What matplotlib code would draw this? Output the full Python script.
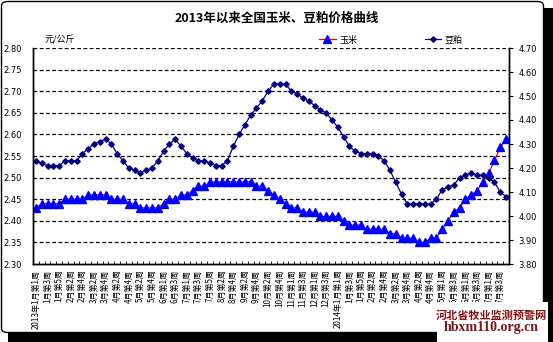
import matplotlib
matplotlib.use("Agg")
import matplotlib.pyplot as plt
from matplotlib.patches import Rectangle, FancyBboxPatch
from matplotlib.lines import Line2D
from matplotlib.ticker import FixedLocator
import numpy as np

plt.rcParams['font.family'] = ['Noto Sans CJK SC', 'DejaVu Sans']

# Weekly prices (yuan/kg), 2013 week 1 through 2014 July week 4
corn = [2.43, 2.44, 2.44, 2.44, 2.44, 2.45, 2.45, 2.45, 2.45, 2.46,
        2.46, 2.46, 2.46, 2.45, 2.45, 2.45, 2.44, 2.44, 2.43, 2.43,
        2.43, 2.43, 2.44, 2.45, 2.45, 2.46, 2.46, 2.47, 2.48, 2.48,
        2.49, 2.49, 2.49, 2.49, 2.49, 2.49, 2.49, 2.49, 2.48, 2.48,
        2.47, 2.46, 2.45, 2.44, 2.43, 2.43, 2.42, 2.42, 2.42, 2.41,
        2.41, 2.41, 2.41, 2.40, 2.39, 2.39, 2.39, 2.38, 2.38, 2.38,
        2.38, 2.37, 2.37, 2.36, 2.36, 2.36, 2.35, 2.35, 2.36, 2.36,
        2.38, 2.40, 2.42, 2.43, 2.45, 2.46, 2.47, 2.49, 2.51, 2.54,
        2.57, 2.59]

soymeal = [4.23, 4.22, 4.21, 4.21, 4.21, 4.23, 4.23, 4.23, 4.26, 4.28,
           4.30, 4.31, 4.32, 4.30, 4.26, 4.23, 4.20, 4.19, 4.18, 4.19,
           4.20, 4.23, 4.27, 4.30, 4.32, 4.29, 4.26, 4.24, 4.23, 4.23,
           4.22, 4.21, 4.21, 4.23, 4.29, 4.34, 4.38, 4.42, 4.45, 4.48,
           4.52, 4.55, 4.55, 4.55, 4.52, 4.51, 4.49, 4.48, 4.46, 4.44,
           4.43, 4.40, 4.37, 4.33, 4.29, 4.27, 4.26, 4.26, 4.26, 4.25,
           4.23, 4.19, 4.14, 4.09, 4.05, 4.05, 4.05, 4.05, 4.05, 4.07,
           4.11, 4.12, 4.13, 4.16, 4.17, 4.18, 4.17, 4.17, 4.16, 4.14,
           4.10, 4.08]

# Labels shown on every second week
week_labels = ["2013年1月第1周", "1月第3周", "1月第5周", "2月第2周", "2月第4周",
               "3月第2周", "3月第4周", "4月第2周", "4月第4周", "5月第2周",
               "5月第4周", "6月第1周", "6月第3周", "7月第1周", "7月第3周",
               "7月第5周", "8月第2周", "8月第4周", "9月第2周", "9月第4周",
               "10月第2周", "10月第4周", "11月第1周", "11月第3周", "12月第1周",
               "12月第3周", "2014年1月第1周", "1月第3周", "1月第5周", "2月第2周",
               "2月第4周", "3月第2周", "3月第4周", "4月第2周", "4月第4周",
               "5月第1周", "5月第3周", "6月第1周", "6月第3周", "7月第1周",
               "7月第3周"]

left_ticks = [2.30, 2.35, 2.40, 2.45, 2.50, 2.55, 2.60, 2.65, 2.70, 2.75, 2.80]
right_ticks = [3.80, 3.90, 4.00, 4.10, 4.20, 4.30, 4.40, 4.50, 4.60, 4.70]

W, H = 553, 342
fig = plt.figure(figsize=(W / 100, H / 100), dpi=100)
fig.patch.set_facecolor('white')

# Frame with drop shadow
fig.patches.append(Rectangle((8 / W, 0), 1 - 8 / W, 334 / H, transform=fig.transFigure,
                             facecolor='black', edgecolor='none', zorder=0))
fig.patches.append(FancyBboxPatch((1.5 / W, 9.5 / H), 542 / W, 331 / H,
                                  boxstyle="round,pad=0,rounding_size=0.012",
                                  transform=fig.transFigure, facecolor='white',
                                  edgecolor='black', linewidth=1, zorder=1))

ax = fig.add_axes([33 / W, 78 / H, 476 / W, 216 / H])
ax.set_zorder(3)
ax.patch.set_alpha(0)
ax2 = ax.twinx()

x = np.arange(len(corn))

ax.set_xlim(-0.5, len(corn) - 0.5)
ax.set_ylim(2.30, 2.80)
ax2.set_ylim(3.80, 4.70)

for v in left_ticks[1:]:
    ax.axhline(v, color='black', linestyle=(0, (3, 2)), linewidth=0.9, zorder=1)

ax.plot(x, corn, color='red', linewidth=0.9, marker='^', markersize=5.5,
        markerfacecolor='#0000FF', markeredgecolor='#0000FF', zorder=4)
ax2.plot(x, soymeal, color='#000080', linewidth=0.9, marker='D', markersize=2.8,
         markerfacecolor='#000080', markeredgecolor='#000080', zorder=4)

for a in (ax, ax2):
    a.spines['top'].set_visible(False)
    a.spines['left'].set_linewidth(1)
    a.spines['right'].set_linewidth(1)
    a.spines['bottom'].set_linewidth(1)

ax.set_yticks(left_ticks)
ax.set_yticklabels([f"{v:.2f}" for v in left_ticks], fontsize=6, family='DejaVu Sans')
ax.tick_params(axis='y', length=0, pad=21.5)
for lbl in ax.get_yticklabels():
    lbl.set_horizontalalignment('left')

ax2.set_yticks(right_ticks)
ax2.set_yticklabels([f"{v:.2f}" for v in right_ticks], fontsize=6, family='DejaVu Sans')
ax2.tick_params(axis='y', length=3, width=0.8, pad=4, direction='out')

ax.set_xticks(np.arange(0, len(corn), 2))
ax.set_xticklabels(week_labels, rotation=90, fontsize=5.8, va='top', ha='center')
ax.tick_params(axis='x', length=0, pad=4)
ax.xaxis.set_minor_locator(FixedLocator(np.arange(-0.5, len(corn), 1.0)))
ax.tick_params(axis='x', which='minor', length=2, width=0.6, direction='in')

fig.text(0.5, 1 - 18 / H, "2013年以来全国玉米、豆粕价格曲线", ha='center', va='center',
         fontsize=9, fontweight='bold')
fig.text(45 / W, 1 - 40 / H, "元/公斤", ha='left', va='center', fontsize=6.5, style='italic')

handles = [Line2D([], [], color='red', linewidth=0.9, marker='^', markersize=5.5,
                  markerfacecolor='#0000FF', markeredgecolor='#0000FF'),
           Line2D([], [], color='#000080', linewidth=0.9, marker='D', markersize=2.8,
                  markerfacecolor='#000080', markeredgecolor='#000080')]
fig.legend(handles, ["玉米", "豆粕"], loc='center', bbox_to_anchor=(391 / W, 1 - 40 / H),
           ncol=2, frameon=False, fontsize=6.5, handlelength=1.8, handletextpad=0.4,
           columnspacing=7.5)

# Watermark
fig.patches.append(Rectangle((437 / W, 0), 111 / W, 40 / H, transform=fig.transFigure,
                             facecolor='white', edgecolor='none', zorder=5))
fig.text(491 / W, 1 - 315 / H, "河北省牧业监测预警网", ha='center', va='center',
         fontsize=8, fontweight='bold', color='#8B1010', zorder=6)
fig.text(491 / W, 1 - 328 / H, "hbxm110.org.cn", ha='center', va='center',
         fontsize=10, fontweight='bold', family='Liberation Serif', color='#7A1515', zorder=6)

fig.savefig("out.png", dpi=100)
